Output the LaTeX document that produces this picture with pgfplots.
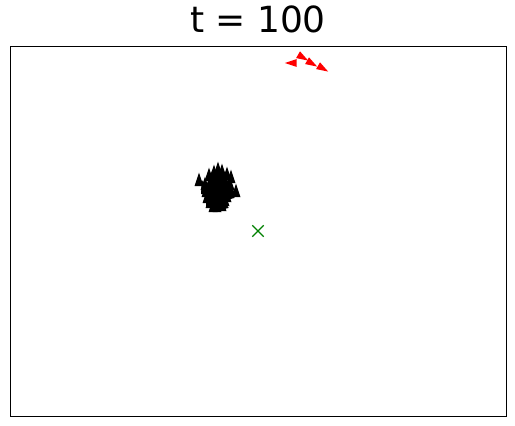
\documentclass[border=0pt]{standalone}
\usepackage{fontspec}
\setmainfont{DejaVu Sans}
\usepackage{pgfplots}
\pgfplotsset{compat=1.18}
\pgfdeclareplotmark{ahead}{%
  \pgfpathmoveto{\pgfqpoint{0pt}{1.1\pgfplotmarksize}}%
  \pgfpathlineto{\pgfqpoint{0.6\pgfplotmarksize}{-0.7\pgfplotmarksize}}%
  \pgfpathlineto{\pgfqpoint{-0.6\pgfplotmarksize}{-0.7\pgfplotmarksize}}%
  \pgfpathclose\pgfusepathqfill}
\begin{document}
\begin{tikzpicture}
\begin{axis}[
  at={(0,0)}, anchor=south west,
  scale only axis, width=496pt, height=370pt,
  xmin=0, xmax=496, ymin=0, ymax=370,
  xtick=\empty, ytick=\empty,
  axis line style={line width=0.8pt},
  clip=false,
  title={t = 100},
  title style={at={(0.5,1)}, anchor=base, yshift=7pt, font=\fontsize{36}{43}\selectfont},
]
% black cluster
\addplot[only marks, mark=ahead, mark size=7.5pt, black] coordinates {
(189,235)
(199,240) (204,243) (208,246) (212,244) (217,241) (221,238)
(195,231) (200,233) (205,234) (210,236) (215,234) (220,231)
(196,224) (201,226) (206,227) (211,228) (216,226) (221,225)
(197,218) (202,219) (207,220) (212,220) (217,219)
(200,213) (205,213) (210,214) (215,215)
(207,209) (203,209) (212,210)
(226,224)
(202,237) (207,239) (213,238) (203,230) (208,231) (213,231) (218,228)
(204,223) (209,224) (214,223) (208,216)
};
\addplot[only marks, mark=ahead, mark size=7.5pt, black, mark options={rotate=15}] coordinates {
(194,228) (209,222) (199,216) (214,230) (219,222) (204,214) (213,212)
};
% red
\addplot[only marks, mark=ahead, mark size=6.5pt, red, mark options={rotate=-120}] coordinates {
(292,359) (301,353) (312,348)
};
\addplot[only marks, mark=ahead, mark size=6.5pt, red, mark options={rotate=90}] coordinates {
(282,353)
};
% green target
\addplot[only marks, mark=x, mark size=8pt, color={rgb,255:red,0;green,128;blue,0}, mark options={line width=1.1pt}] coordinates {
(248,185)
};
\end{axis}
\path[use as bounding box] (-10pt,-10pt) rectangle (505pt,416pt);
\end{tikzpicture}
\end{document}
